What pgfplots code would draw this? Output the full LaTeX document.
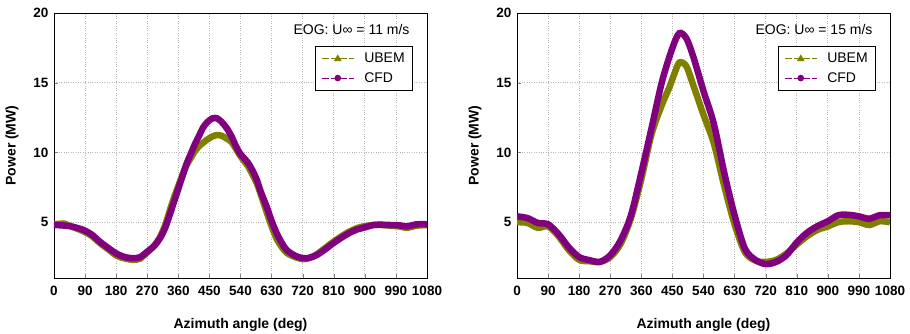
\documentclass[border=0pt]{standalone}
\usepackage{fontspec}
\setmainfont{Liberation Sans}
\usepackage{pgfplots}
\pgfplotsset{compat=1.18}
\definecolor{olv}{RGB}{128,128,0}
\definecolor{prp}{RGB}{128,0,128}

\pgfplotsset{
 myax/.style={
  scale only axis, width=373pt, height=265pt,
  xmin=0, xmax=1080, ymin=1, ymax=20,
  xtick={0,90,...,1080}, ytick={5,10,15,20},
  xtick pos=bottom, ytick pos=left,
  tick align=inside,
  major tick length=4pt,
  grid=major, grid style={gray!55, dotted, line width=0.7pt},
  axis line style={line width=0.8pt},
  /pgf/number format/assume math mode=true,
  /pgf/number format/1000 sep={},
  ticklabel style={font=\fontsize{13.5}{14}\selectfont\bfseries},
  xticklabel style={yshift=-5pt},
  yticklabel style={xshift=-2pt},
  xlabel={Azimuth angle (deg)}, ylabel={Power (MW)},
  label style={font=\fontsize{14}{15}\selectfont\bfseries},
  xlabel style={yshift=-15pt},
  ylabel style={yshift=8pt},
  legend style={at={(rel axis cs:0.9625,0.8755)}, anchor=north east,
    font=\fontsize{14}{15}\selectfont, draw=black, line width=0.6pt,
    inner xsep=6pt, inner ysep=5pt, row sep=4pt,
    /tikz/every odd column/.append style={column sep=8pt}},
  legend image code/.code={\draw[mark repeat=2,mark phase=2,#1] plot coordinates {(0pt,0pt) (16pt,0pt) (32pt,0pt)};},
  legend cell align=left,
 },
 ub/.style={olv, line width=6.5pt, smooth, no markers, forget plot},
 cf/.style={prp, line width=6.5pt, smooth, no markers, forget plot},
}

\pgfplotstableread{
x y
0 4.85
30 4.9
45 4.75
85 4.35
110 4.0
133 3.5
160 3.0
181 2.6
205 2.4
230 2.3
250 2.4
268 2.8
290 3.3
307 3.95
322 4.8
336 5.9
348 6.8
360 7.6
372 8.4
384 9.1
396 9.6
408 10.1
420 10.45
432 10.7
445 10.95
459 11.15
472 11.25
485 11.2
500 11.0
514 10.75
526 10.3
538 9.8
550 9.4
562 9.0
575 8.4
587 7.8
600 6.9
616 5.7
630 4.7
645 3.8
660 3.2
674 2.8
698 2.5
722 2.35
740 2.45
761 2.7
785 3.15
809 3.6
833 4.0
857 4.35
880 4.6
896 4.7
925 4.8
950 4.8
973 4.75
1000 4.7
1021 4.6
1050 4.75
1080 4.8
}\ubA

\pgfplotstableread{
x y
0 4.8
45 4.72
85 4.45
110 4.1
133 3.6
160 3.1
181 2.75
205 2.5
230 2.42
250 2.5
268 2.85
290 3.3
307 3.85
322 4.6
336 5.6
348 6.5
360 7.4
372 8.3
384 9.2
396 9.9
408 10.6
420 11.2
432 11.8
445 12.2
459 12.45
472 12.45
485 12.2
500 11.75
514 11.15
526 10.5
538 9.95
550 9.6
562 9.25
575 8.7
587 8.05
600 7.1
616 6.1
630 5.1
645 4.2
660 3.5
674 3.0
698 2.6
722 2.42
740 2.45
761 2.65
785 3.05
809 3.5
833 3.9
857 4.25
880 4.5
896 4.6
925 4.8
950 4.82
973 4.8
1000 4.78
1021 4.7
1050 4.85
1080 4.85
}\cfA

\pgfplotstableread{
x y
0 5.0
30 4.95
60 4.6
90 4.7
120 4.0
150 3.0
180 2.3
210 2.2
240 2.15
270 2.5
300 3.45
330 5.3
360 8.1
390 11.35
420 13.45
440 14.6
455 15.6
470 16.45
490 16.2
510 14.85
540 12.7
570 10.65
600 7.6
630 4.85
660 2.85
690 2.25
720 2.15
750 2.3
780 2.75
810 3.4
840 4.0
870 4.45
900 4.7
930 5.0
960 5.07
990 5.0
1020 4.8
1050 5.07
1080 5.0
}\ubB

\pgfplotstableread{
x y
0 5.42
30 5.3
60 4.95
90 4.85
120 4.15
150 3.2
180 2.5
210 2.28
240 2.16
270 2.63
300 3.7
330 5.5
360 8.55
390 11.8
420 15.1
450 17.5
470 18.55
490 18.2
510 16.9
540 14.4
570 12.05
600 8.55
630 5.5
660 3.1
690 2.3
720 2.0
750 2.15
780 2.63
810 3.55
840 4.25
870 4.72
900 5.07
930 5.5
960 5.53
990 5.42
1020 5.25
1050 5.5
1080 5.5
}\cfB

\begin{document}
\begin{tikzpicture}
\useasboundingbox (0,0) rectangle (910pt,333pt);
\begin{axis}[myax, at={(54pt,55pt)}, anchor=south west]
\addlegendimage{olv, line width=1pt, dash pattern=on 7pt off 2pt, mark=triangle*, mark size=3.5pt, mark options={solid}}
\addlegendentry{UBEM}
\addlegendimage{prp, line width=1pt, dash pattern=on 7pt off 2pt, mark=*, mark size=2.8pt, mark options={solid}}
\addlegendentry{CFD}
\addplot[ub] table {\ubA};
\addplot[cf] table {\cfA};
\node[anchor=east, font=\fontsize{14}{15}\selectfont] at (rel axis cs:0.9625,0.936) {EOG: U∞ = 11 m/s};
\end{axis}
\begin{axis}[myax, at={(517pt,55pt)}, anchor=south west]
\addlegendimage{olv, line width=1pt, dash pattern=on 7pt off 2pt, mark=triangle*, mark size=3.5pt, mark options={solid}}
\addlegendentry{UBEM}
\addlegendimage{prp, line width=1pt, dash pattern=on 7pt off 2pt, mark=*, mark size=2.8pt, mark options={solid}}
\addlegendentry{CFD}
\addplot[ub] table {\ubB};
\addplot[cf] table {\cfB};
\node[anchor=east, font=\fontsize{14}{15}\selectfont] at (rel axis cs:0.9625,0.936) {EOG: U∞ = 15 m/s};
\end{axis}
\end{tikzpicture}
\end{document}
